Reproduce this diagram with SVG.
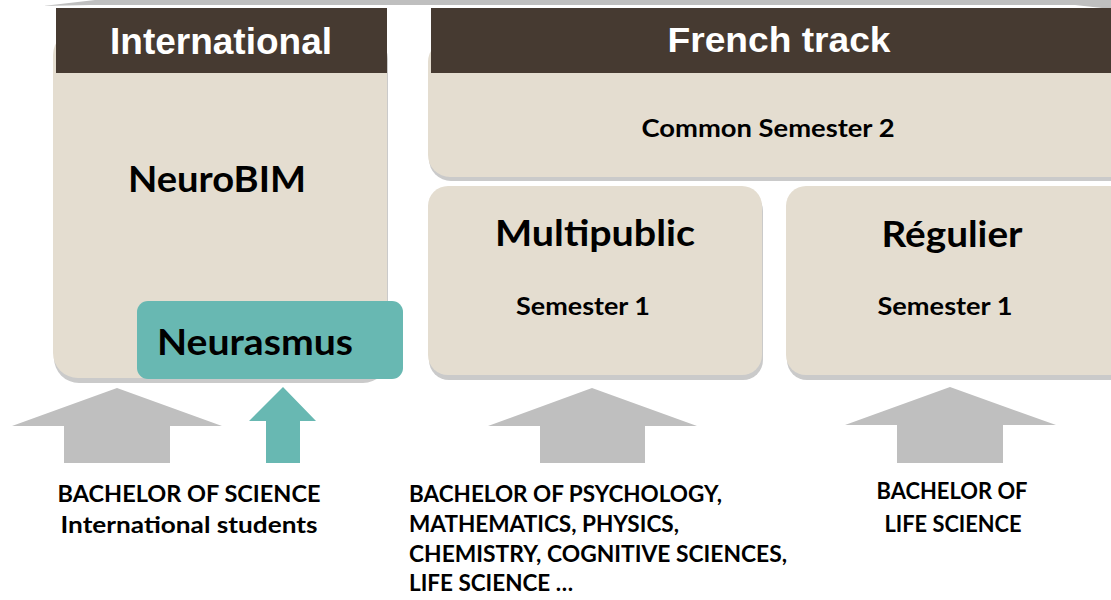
<svg xmlns="http://www.w3.org/2000/svg" width="1111" height="600" viewBox="0 0 1111 600">
<style>
.hdr{fill:#463a31}
.box{fill:#e4ddd0}
.shd{fill:#cacaca}
.hdrt{font-family:"Liberation Sans",Arial,sans-serif;font-weight:bold;fill:#ffffff;text-anchor:middle}
.t{font-family:Lato,"Open Sans",sans-serif;font-weight:bold;fill:#000000}
.c{text-anchor:middle}
.garrow{fill:#bfbfbf}
.tarrow{fill:#68b8b2}
</style>
<rect width="1111" height="600" fill="#ffffff"/>
<polygon points="43,6 95,0 1111,0 1111,9 1075,5 90,5" fill="#bfbfbf"/>

<g id="international">
  <rect class="shd" x="54" y="34" width="334" height="349" rx="25"/>
  <rect class="box" x="53" y="30" width="334" height="348" rx="25"/>
  <rect class="hdr" x="56" y="8" width="331" height="65"/>
  <text class="hdrt" x="221" y="54" font-size="37" textLength="222" lengthAdjust="spacingAndGlyphs">International</text>
  <text class="t c" x="217" y="192" font-size="36" textLength="178" lengthAdjust="spacingAndGlyphs">NeuroBIM</text>
</g>

<g id="neurasmus">
  <rect x="137" y="301" width="266" height="78" rx="11" fill="#68b8b2"/>
  <text class="t" x="157" y="355" font-size="36" textLength="196" lengthAdjust="spacingAndGlyphs">Neurasmus</text>
</g>

<g id="french-track">
  <rect class="shd" x="429" y="44" width="720" height="137" rx="22"/>
  <rect class="box" x="428" y="40" width="720" height="137" rx="22"/>
  <rect class="hdr" x="431" y="8" width="680" height="65"/>
  <text class="hdrt" x="779" y="52" font-size="35" textLength="223" lengthAdjust="spacingAndGlyphs">French track</text>
  <text class="t c" x="768" y="137" font-size="25" textLength="253" lengthAdjust="spacingAndGlyphs">Common Semester 2</text>
</g>

<g id="multipublic">
  <rect class="shd" x="429" y="191" width="334" height="189" rx="20"/>
  <rect class="box" x="428" y="186" width="334" height="189" rx="20"/>
  <text class="t c" x="595" y="246" font-size="36" textLength="200" lengthAdjust="spacingAndGlyphs">Multipublic</text>
  <text class="t c" x="583" y="315" font-size="25" textLength="134" lengthAdjust="spacingAndGlyphs">Semester 1</text>
</g>

<g id="regulier">
  <rect class="shd" x="787" y="191" width="354" height="189" rx="20"/>
  <rect class="box" x="786" y="186" width="354" height="189" rx="20"/>
  <text class="t c" x="952" y="247" font-size="36" textLength="141" lengthAdjust="spacingAndGlyphs">Régulier</text>
  <text class="t c" x="945" y="315" font-size="25" textLength="135" lengthAdjust="spacingAndGlyphs">Semester 1</text>
</g>

<g id="connectors">
  <polygon class="garrow" points="117,388 222,426 170,426 170,463 64,463 64,426 12,426"/>
  <polygon class="tarrow" points="283,387 316,421 300,421 300,463 266,463 266,421 249,421"/>
  <polygon class="garrow" points="592,388 697,426 645,426 645,463 540,463 540,426 488,426"/>
  <polygon class="garrow" points="950,387 1056,425 1003,425 1003,463 897,463 897,425 845,425"/>
</g>

<g id="label-international">
  <text class="t c" x="189" y="502" font-size="23" textLength="263" lengthAdjust="spacingAndGlyphs">BACHELOR OF SCIENCE</text>
  <text class="t c" x="189" y="533" font-size="23" textLength="257" lengthAdjust="spacingAndGlyphs">International students</text>
</g>

<g id="label-multipublic">
  <text class="t" x="409" y="502" font-size="23" textLength="313" lengthAdjust="spacingAndGlyphs">BACHELOR OF PSYCHOLOGY,</text>
  <text class="t" x="409" y="532" font-size="23" textLength="270" lengthAdjust="spacingAndGlyphs">MATHEMATICS, PHYSICS,</text>
  <text class="t" x="409" y="562" font-size="23" textLength="378" lengthAdjust="spacingAndGlyphs">CHEMISTRY, COGNITIVE SCIENCES,</text>
  <text class="t" x="409" y="591" font-size="23" textLength="164" lengthAdjust="spacingAndGlyphs">LIFE SCIENCE …</text>
</g>

<g id="label-regulier">
  <text class="t c" x="952" y="499" font-size="23" textLength="151" lengthAdjust="spacingAndGlyphs">BACHELOR OF</text>
  <text class="t c" x="953" y="532" font-size="23" textLength="137" lengthAdjust="spacingAndGlyphs">LIFE SCIENCE</text>
</g>
</svg>
